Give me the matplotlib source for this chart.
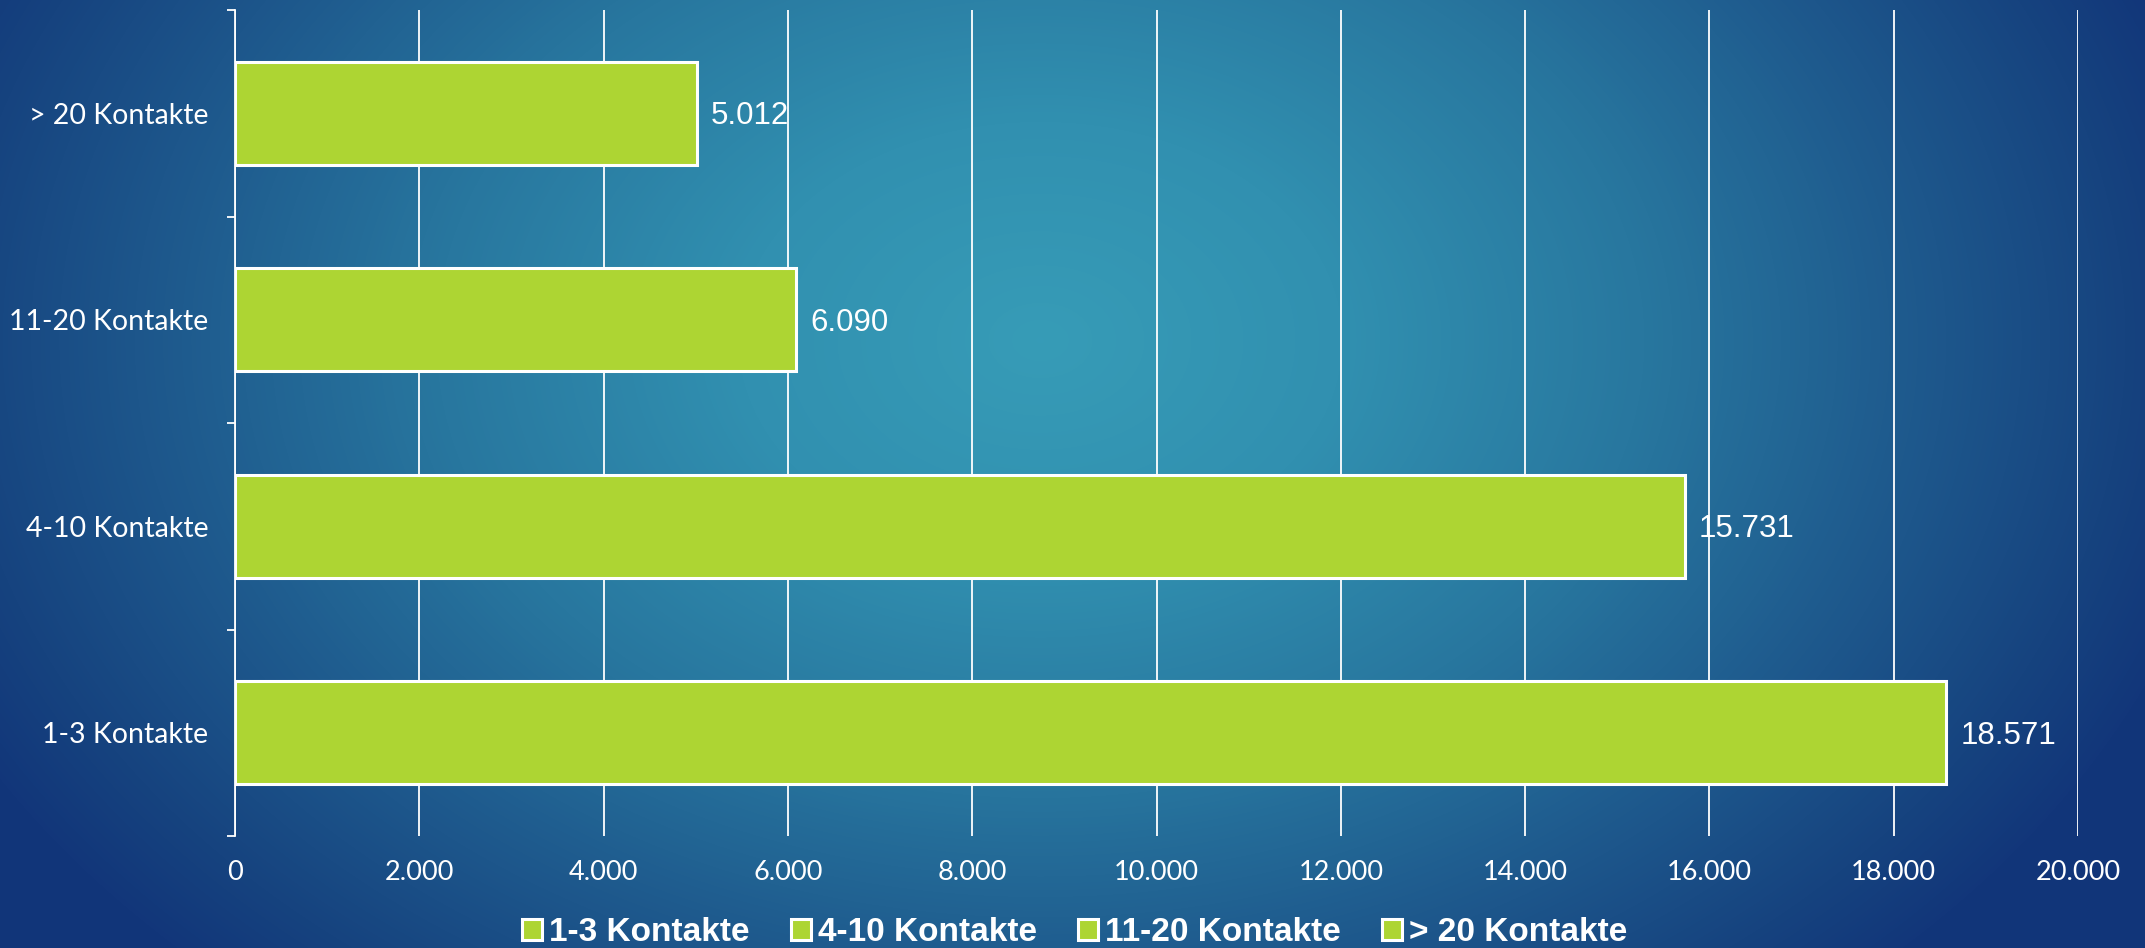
import numpy as np
import matplotlib.pyplot as plt
from matplotlib.colors import LinearSegmentedColormap
from matplotlib.ticker import FixedLocator

categories = ['1-3 Kontakte', '4-10 Kontakte', '11-20 Kontakte', '> 20 Kontakte']
values = [18571, 15731, 6090, 5012]
xticks = [0, 2000, 4000, 6000, 8000, 10000, 12000, 14000, 16000, 18000, 20000]

bar_color = '#add533'
tick_font = ['Lato', 'DejaVu Sans']
label_font = ['Liberation Sans', 'DejaVu Sans']

size = 2145, 948
figure = plt.figure(figsize=(size[0]/100.0, size[1]/100.0), dpi=100)

# radial blue background
bg = figure.add_axes([0, 0, 1, 1], zorder=-1)
yy, xx = np.mgrid[0:size[1], 0:size[0]]
d = np.sqrt(((xx - 1040) / 1050.0)**2 + ((yy - 340) / 760.0)**2)
cmap = LinearSegmentedColormap.from_list('bg', [
    (0.0, '#379cb7'), (0.25, '#3190b0'), (0.5, '#28779f'),
    (0.75, '#1d568b'), (0.9, '#16437f'), (1.0, '#12367a')])
bg.imshow(np.clip(d / 1.15, 0, 1), cmap=cmap, aspect='auto', extent=[0, 1, 0, 1])
bg.axis('off')

ax = figure.add_axes([235/2145, 1 - 836/948, (2078 - 235)/2145, (836 - 10)/948])
ax.patch.set_alpha(0)

for i, (cat, val) in enumerate(zip(categories, values)):
    ax.barh(i, val, height=0.5, color=bar_color, edgecolor='white', linewidth=2.2,
            label=cat, zorder=3)
    ax.annotate('{:,}'.format(val).replace(',', '.'), (val, i), xytext=(10, -2),
                textcoords='offset points', va='center', ha='left', color='white',
                fontsize=22.5, family=label_font, zorder=4)

ax.set_xlim(0, 20000)
ax.set_ylim(-0.5, len(categories) - 0.5)
ax.set_xticks(xticks)
ax.set_xticklabels(['{:,}'.format(t).replace(',', '.') for t in xticks])
ax.set_yticks(range(len(categories)))
ax.set_yticklabels(categories)
ax.yaxis.set_minor_locator(FixedLocator(np.arange(-0.5, len(categories), 1.0)))

ax.grid(axis='x', color='white', linewidth=1.3, zorder=1)
for s in ['top', 'right', 'bottom']:
    ax.spines[s].set_visible(False)
ax.spines['left'].set_color('white')
ax.spines['left'].set_linewidth(1.3)
ax.spines['left'].set_zorder(5)

ax.tick_params(axis='x', length=0, pad=17, labelsize=19.5, labelcolor='white')
ax.tick_params(axis='y', which='major', length=0, pad=19, labelsize=20.5, labelcolor='white')
ax.tick_params(axis='y', which='minor', length=6, width=1.3, color='white')
for lab in ax.get_xticklabels() + ax.get_yticklabels():
    lab.set_family(tick_font)

leg = figure.legend(*ax.get_legend_handles_labels(), loc='center', bbox_to_anchor=(0.501, 0.016),
                    ncol=4, frameon=False, handlelength=0.6, handleheight=0.6,
                    handletextpad=0.2, columnspacing=1.25,
                    prop={'family': label_font, 'weight': 'bold', 'size': 24})
for t in leg.get_texts():
    t.set_color('white')

figure.savefig('out.png', dpi=100)
